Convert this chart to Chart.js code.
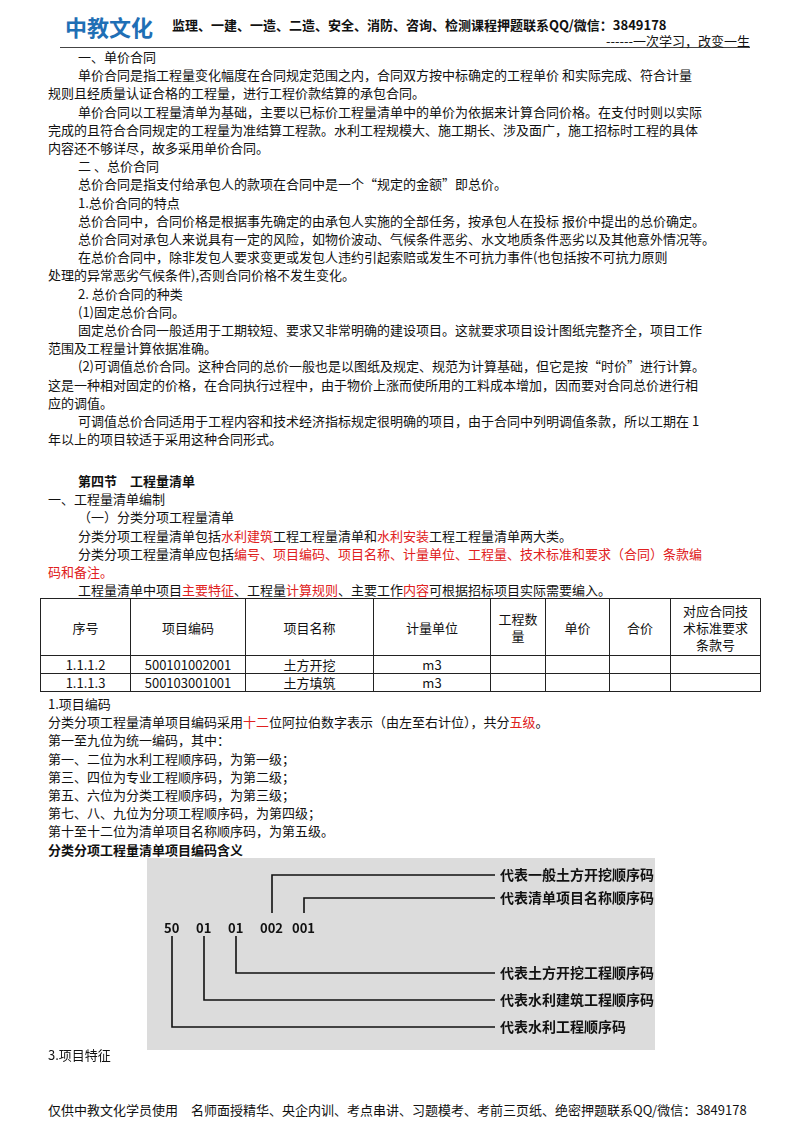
<!DOCTYPE html>
<html><head><meta charset="utf-8">
<script src="https://cdn.jsdelivr.net/npm/chart.js@4/dist/chart.umd.min.js"></script>
<style>
body{margin:0;width:800px;height:1132px;background:#fff;font-family:"Noto Sans CJK SC",sans-serif;color:#111;position:relative;overflow:hidden}
.hdr{position:absolute;left:60px;top:8px;width:690px;height:39px;border-bottom:1px solid #444}
.logo{position:absolute;left:5px;top:2px;color:#1f6fb5;font-size:22px;font-weight:bold}
.htxt{position:absolute;left:112px;top:7px;font-size:13px;font-weight:bold}
.hr{position:absolute;right:0;top:23px;font-size:13px}
.body{position:absolute;left:78px;top:48px;width:690px;font-size:13px;line-height:18.2px}
p{margin:0}
.o{margin-left:-30px}
.r{color:#e02020}
table{position:absolute;left:40px;top:598px;border-collapse:collapse;font-size:13px;background:#fff}
td{border:1px solid #222;text-align:center;padding:0;line-height:17px}
#box{position:absolute;left:147px;top:858px;width:508px;height:192px;background:#dcdcdc}
.ft{position:absolute;left:48px;top:1100px;font-size:13px}
</style></head><body>
<div class="hdr"><div class="logo">中教文化</div><div class="htxt">监理、一建、一造、二造、安全、消防、咨询、检测课程押题联系QQ/微信：3849178</div><div class="hr">------一次学习，改变一生</div></div>
<div class="body">
<p>一、单价合同</p>
<p>单价合同是指工程量变化幅度在合同规定范围之内，合同双方按中标确定的工程单价 和实际完成、符合计量</p>
<p class="o">规则且经质量认证合格的工程量，进行工程价款结算的承包合同。</p>
<p>单价合同以工程量清单为基础，主要以已标价工程量清单中的单价为依据来计算合同价格。在支付时则以实际</p>
<p class="o">完成的且符合合同规定的工程量为准结算工程款。水利工程规模大、施工期长、涉及面广，施工招标时工程的具体</p>
<p class="o">内容还不够详尽，故多采用单价合同。</p>
<p>二 、总价合同</p>
<p>总价合同是指支付给承包人的款项在合同中是一个“规定的金额”即总价。</p>
<p>1.总价合同的特点</p>
<p>总价合同中，合同价格是根据事先确定的由承包人实施的全部任务，按承包人在投标 报价中提出的总价确定。</p>
<p>总价合同对承包人来说具有一定的风险，如物价波动、气候条件恶劣、水文地质条件恶劣以及其他意外情况等。</p>
<p>在总价合同中，除非发包人要求变更或发包人违约引起索赔或发生不可抗力事件(也包括按不可抗力原则</p>
<p class="o">处理的异常恶劣气候条件),否则合同价格不发生变化。</p>
<p>2. 总价合同的种类</p>
<p>(1)固定总价合同。</p>
<p>固定总价合同一般适用于工期较短、要求又非常明确的建设项目。这就要求项目设计图纸完整齐全，项目工作</p>
<p class="o">范围及工程量计算依据准确。</p>
<p>(2)可调值总价合同。这种合同的总价一般也是以图纸及规定、规范为计算基础，但它是按“时价”进行计算。</p>
<p class="o">这是一种相对固定的价格，在合同执行过程中，由于物价上涨而使所用的工料成本增加，因而要对合同总价进行相</p>
<p class="o">应的调值。</p>
<p>可调值总价合同适用于工程内容和技术经济指标规定很明确的项目，由于合同中列明调值条款，所以工期在 1</p>
<p class="o">年以上的项目较适于采用这种合同形式。</p>
</div>
<div class="body" style="top:472px">
<p><b>第四节　工程量清单</b></p>
<p class="o">一、工程量清单编制</p>
<p>（一）分类分项工程量清单</p>
<p>分类分项工程量清单包括<span class="r">水利建筑</span>工程工程量清单和<span class="r">水利安装</span>工程工程量清单两大类。</p>
<p>分类分项工程量清单应包括<span class="r">编号、项目编码、项目名称、计量单位、工程量、技术标准和要求（合同）条款编</span></p>
<p class="o r">码和备注。</p>
<p>工程量清单中项目<span class="r">主要特征</span>、工程量<span class="r">计算规则</span>、主要工作<span class="r">内容</span>可根据招标项目实际需要编入。</p>
</div>
<table>
<tr style="height:57px"><td style="width:89px">序号</td><td style="width:114px">项目编码</td><td style="width:127px">项目名称</td><td style="width:116px">计量单位</td><td style="width:54px">工程数<br>量</td><td style="width:63px">单价</td><td style="width:60px">合价</td><td style="width:89px">对应合同技<br>术标准要求<br>条款号</td></tr>
<tr style="height:18px"><td>1.1.1.2</td><td>500101002001</td><td>土方开挖</td><td>m3</td><td></td><td></td><td></td><td></td></tr>
<tr style="height:18px"><td>1.1.1.3</td><td>500103001001</td><td>土方填筑</td><td>m3</td><td></td><td></td><td></td><td></td></tr>
</table>
<div class="body" style="top:695px">
<p class="o">1.项目编码</p>
<p class="o">分类分项工程量清单项目编码采用<span class="r">十二</span>位阿拉伯数字表示（由左至右计位），共分<span class="r">五级</span>。</p>
<p class="o">第一至九位为统一编码，其中：</p>
<p class="o">第一、二位为水利工程顺序码，为第一级；</p>
<p class="o">第三、四位为专业工程顺序码，为第二级；</p>
<p class="o">第五、六位为分类工程顺序码，为第三级；</p>
<p class="o">第七、八、九位为分项工程顺序码，为第四级；</p>
<p class="o">第十至十二位为清单项目名称顺序码，为第五级。</p>
<p class="o"><b>分类分项工程量清单项目编码含义</b></p>
</div>
<div id="box"><canvas id="c" width="508" height="192"></canvas></div>
<div class="body" style="top:1046px"><p class="o">3.项目特征</p></div>
<div class="ft">仅供中教文化学员使用　名师面授精华、央企内训、考点串讲、习题模考、考前三页纸、绝密押题联系QQ/微信：3849178</div>
<script>
const codeParts=['50','01','01','002','001'];
const partLabels=['代表水利工程顺序码','代表水利建筑工程顺序码','代表土方开挖工程顺序码','代表一般土方开挖顺序码','代表清单项目名称顺序码'];
const labelSide=['below','below','below','above','above'];
const labelLevel=[3,2,1,1,2];
const X0=25, DX=32, CODEY=70, LABX=353, LINEEND=348;
const lineSets=[];
codeParts.forEach((p,i)=>{
  const x=X0+DX*i+(p.length>2?4:0);
  const yb=labelSide[i]==='below'?[115,142,169][labelLevel[i]-1]:[17,40][labelLevel[i]-1];
  const ys=labelSide[i]==='below'?78:55;
  lineSets.push({data:[{x:x,y:192-ys},{x:x,y:192-yb},{x:LINEEND,y:192-yb}],showLine:true,borderColor:'#111',borderWidth:1.6,pointRadius:0,fill:false,_lab:partLabels[i],_ly:192-yb});
});
const txt={id:'txt',afterDatasetsDraw(ch){
  const c=ch.ctx,xs=ch.scales.x,ys=ch.scales.y;
  c.save();c.fillStyle='#111';c.textBaseline='middle';
  c.font='bold 13px "Noto Sans CJK SC"';
  codeParts.forEach((p,i)=>{c.fillText(p,xs.getPixelForValue(X0+DX*i-8),ys.getPixelForValue(192-CODEY));});
  c.font='bold 14px "Noto Sans CJK SC"';
  lineSets.forEach(d=>c.fillText(d._lab,xs.getPixelForValue(LABX),ys.getPixelForValue(d._ly)));
  c.restore();}};
new Chart(document.getElementById('c'),{type:'scatter',data:{datasets:lineSets},plugins:[txt],
options:{responsive:false,animation:false,layout:{padding:0},plugins:{legend:{display:false},tooltip:{enabled:false}},
scales:{x:{type:'linear',min:0,max:508,display:false},y:{type:'linear',min:0,max:192,display:false}}}});
</script>
</body></html>
